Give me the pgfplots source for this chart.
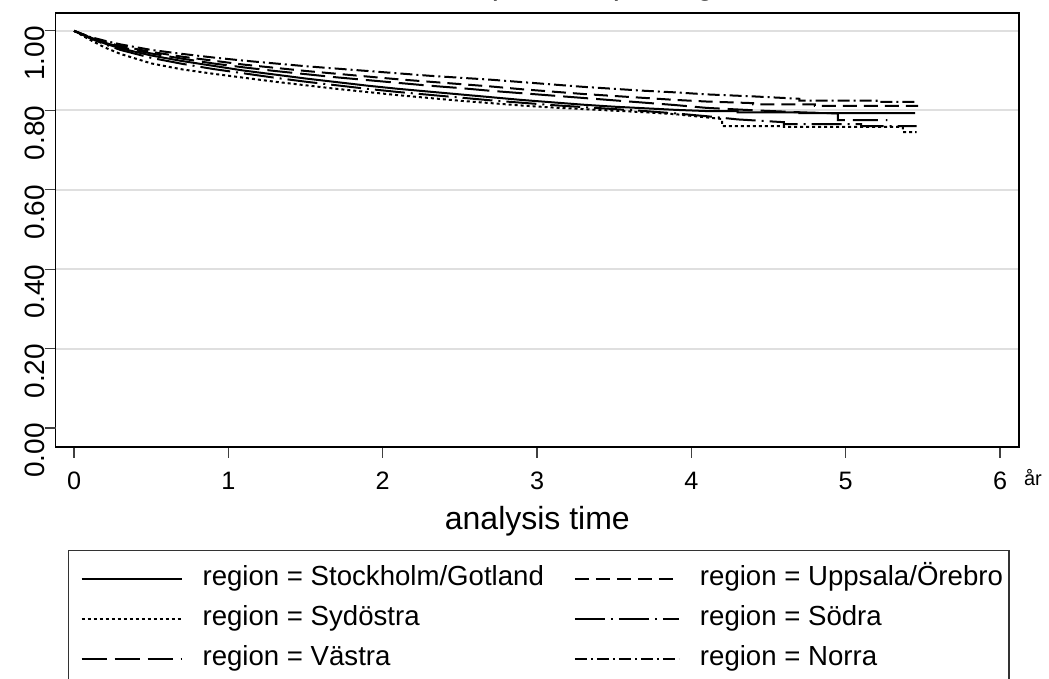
\documentclass[border=0pt]{standalone}
\usepackage{pgfplots}
\pgfplotsset{compat=1.18}
\usepackage{fontspec}
\setmainfont{Liberation Sans}
\pgfplotsset{
  shortleg/.style={legend image code/.code={\path (-5pt,0pt); \draw[##1, line width=1pt] (0pt,0pt) -- (50pt,0pt);}},
  longleg/.style={legend image code/.code={\draw[##1, line width=1pt] (0pt,0pt) -- (52pt,0pt);}}
}
\begin{document}
\begin{tikzpicture}
\begin{axis}[
  scale only axis, width=481.65pt, height=217pt,
  xmin=-0.119, xmax=6.123, ymin=-0.048, ymax=1.045,
  axis line style={black, line width=0.7pt},
  tick align=outside, major tick length=5.5pt,
  tick style={black!75, line width=0.6pt},
  xtick={0,1,2,3,4,5,6}, xticklabels={0,1,2,3,4,5,6},
  xticklabel style={font=\fontsize{12.6}{14}\selectfont, inner sep=0pt, yshift=-7pt},
  ytick={0.2,0.4,0.6,0.8,1.0}, yticklabels={0.20,0.40,0.60,0.80,1.00},
  extra y ticks={0}, extra y tick labels={0.00}, extra y tick style={grid=none},
  yticklabel style={rotate=90, anchor=south, font=\fontsize{14}{15}\selectfont, inner sep=0pt, xshift=-11.3pt},
  ymajorgrids, major grid style={gray!25, line width=1pt},
  xtick pos=bottom, ytick pos=left,
  xlabel={analysis time},
  xlabel style={at={(axis description cs:0.5,0)}, anchor=center, yshift=-37pt, font=\fontsize{16}{18}\selectfont},
  legend columns=2,
  legend cell align=left,
  legend style={at={(axis description cs:0.01277,-0.2373)}, anchor=north west, draw=black!80, line width=0.6pt,
    font=\fontsize{13.8}{16}\selectfont, row sep=3pt, inner xsep=1pt, inner ysep=5.5pt,
    nodes={inner xsep=2pt, inner ysep=2pt, text height=10pt, text depth=3pt},
    /tikz/every odd column/.append style={column sep=8pt},
    /tikz/every even column/.append style={column sep=13pt}},
  every axis plot/.append style={black, line width=1pt},
]
% Stockholm/Gotland
\addplot[solid, shortleg] coordinates {(0,1) (0.1,0.983) (0.2,0.968) (0.3,0.956) (0.5,0.938) (0.7,0.924) (0.9,0.912) (1.1,0.900) (1.3,0.890) (1.5,0.880) (1.7,0.871) (1.9,0.862) (2.1,0.854) (2.3,0.847) (2.5,0.840) (2.7,0.833) (2.9,0.826) (3.1,0.820) (3.3,0.814) (3.5,0.809) (3.7,0.805) (3.9,0.801) (4.1,0.798) (4.3,0.798) (4.3,0.795) (4.7,0.795) (4.7,0.793) (5.45,0.793)};
\addlegendentry{region = Stockholm/Gotland}
% Uppsala/Orebro
\addplot[dash pattern=on 7pt off 3.5pt, longleg] coordinates {(0,1) (0.1,0.985) (0.2,0.972) (0.3,0.962) (0.5,0.947) (0.7,0.935) (0.9,0.925) (1.1,0.915) (1.3,0.907) (1.5,0.899) (1.7,0.892) (1.9,0.885) (2.1,0.878) (2.3,0.872) (2.5,0.866) (2.7,0.860) (2.9,0.853) (3.1,0.847) (3.3,0.841) (3.5,0.836) (3.7,0.831) (3.9,0.826) (4.1,0.822) (4.4,0.818) (4.4,0.815) (4.8,0.815) (4.8,0.811) (5.47,0.811)};
\addlegendentry{region = Uppsala/Örebro}
% Sydostra
\addplot[dash pattern=on 1.5pt off 1.5pt, shortleg] coordinates {(0,1) (0.1,0.978) (0.2,0.958) (0.3,0.942) (0.5,0.918) (0.7,0.903) (0.9,0.892) (1.1,0.882) (1.3,0.872) (1.5,0.863) (1.7,0.854) (1.9,0.846) (2.1,0.838) (2.3,0.831) (2.5,0.824) (2.7,0.818) (2.9,0.812) (3.1,0.807) (3.3,0.803) (3.5,0.799) (3.7,0.795) (3.9,0.790) (4.1,0.782) (4.2,0.778) (4.2,0.760) (4.6,0.760) (4.6,0.758) (5.37,0.758) (5.37,0.745) (5.46,0.745)};
\addlegendentry{region = Sydöstra}
% Sodra
\addplot[dash pattern=on 15pt off 3pt on 1pt off 3pt, longleg] coordinates {(0,1) (0.1,0.982) (0.2,0.966) (0.3,0.952) (0.5,0.932) (0.7,0.917) (0.9,0.904) (1.1,0.893) (1.3,0.882) (1.5,0.872) (1.7,0.863) (1.9,0.854) (2.1,0.846) (2.3,0.839) (2.5,0.832) (2.7,0.825) (2.9,0.819) (3.1,0.813) (3.3,0.808) (3.5,0.803) (3.7,0.798) (3.9,0.792) (4.1,0.785) (4.3,0.777) (4.6,0.770) (4.6,0.765) (5.1,0.765) (5.1,0.760) (5.46,0.760)};
\addlegendentry{region = Södra}
% Vastra
\addplot[dash pattern=on 12.5pt off 4pt, shortleg] coordinates {(0,1) (0.1,0.984) (0.2,0.970) (0.3,0.959) (0.5,0.943) (0.7,0.930) (0.9,0.918) (1.1,0.908) (1.3,0.899) (1.5,0.891) (1.7,0.883) (1.9,0.876) (2.1,0.869) (2.3,0.862) (2.5,0.856) (2.7,0.849) (2.9,0.843) (3.1,0.837) (3.3,0.831) (3.5,0.825) (3.7,0.819) (3.9,0.813) (4.1,0.806) (4.4,0.800) (4.7,0.795) (4.95,0.792) (4.95,0.775) (5.27,0.775)};
\addlegendentry{region = Västra}
% Norra
\addplot[dash pattern=on 6pt off 2pt on 1pt off 2pt, longleg] coordinates {(0,1) (0.1,0.985) (0.2,0.975) (0.3,0.966) (0.5,0.952) (0.7,0.942) (0.9,0.933) (1.1,0.925) (1.3,0.918) (1.5,0.911) (1.7,0.905) (1.9,0.899) (2.1,0.893) (2.3,0.887) (2.5,0.882) (2.7,0.877) (2.9,0.871) (3.1,0.865) (3.3,0.859) (3.5,0.854) (3.7,0.849) (3.9,0.845) (4.1,0.840) (4.4,0.835) (4.7,0.829) (4.7,0.824) (5.2,0.824) (5.2,0.821) (5.47,0.821)};
\addlegendentry{region = Norra}
\end{axis}
\node[font=\fontsize{10}{12}\selectfont] at (488.6pt,-15.5pt) {år};
\node[font=\fontsize{16}{18}\selectfont, anchor=base west] at (198.6pt,226pt) {C patients per region, norr};
\pgfresetboundingbox
\path[use as bounding box] (-27.85pt,-116pt) rectangle (496.65pt,223.5pt);
\end{tikzpicture}
\end{document}
